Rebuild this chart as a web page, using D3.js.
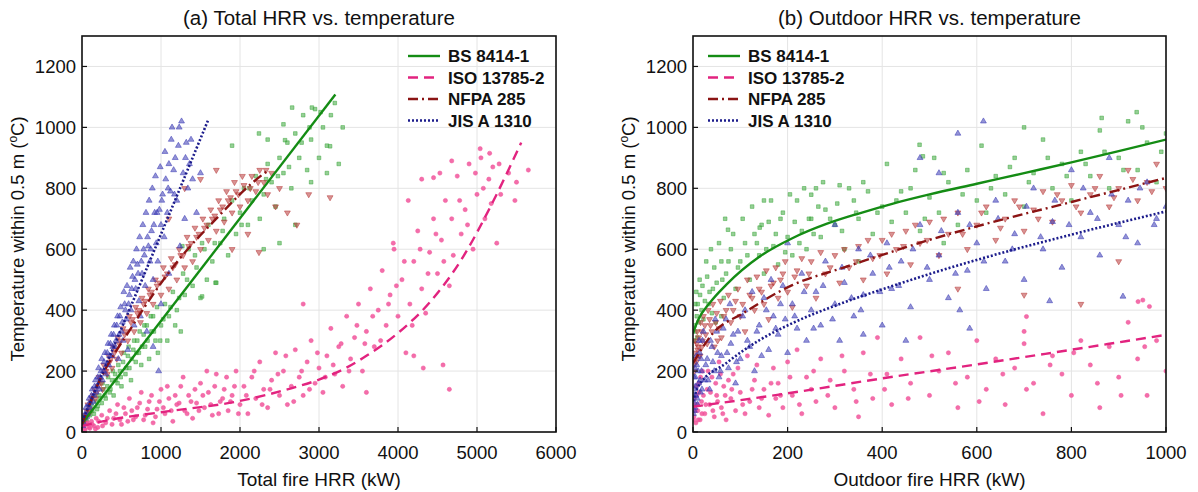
<!doctype html>
<html>
<head>
<meta charset="utf-8"/>
<title>HRR vs. temperature</title>
<script src="https://d3js.org/d3.v7.min.js"></script>
<style>
body { margin: 0; background: #fff; }
svg { font-family: "Liberation Sans", Arial, sans-serif; }
</style>
</head>
<body>
<svg id="svg1" width="1198" height="492"></svg>
<script>
// ---- data ----
const series_names = ['BS 8414-1', 'ISO 13785-2', 'NFPA 285', 'JIS A 1310'];
const x_ticks_a = [0, 1000, 2000, 3000, 4000, 5000, 6000];
const x_ticks_b = [0, 200, 400, 600, 800, 1000];
const y_ticks = [0, 200, 400, 600, 800, 1000, 1200];

// (a) total HRR, fitted curves
const fit_bs_a = [[0, 28], [3207, 1108]];
const fit_iso_a = [[0, 20], [400, 42], [1000, 65], [2000, 102], [2600, 140], [3000, 172], [3300, 205], [3600, 250], [4000, 325], [4400, 425], [4800, 565], [5200, 755], [5560, 950]];
const fit_nfpa_a = [[0, 25], [169, 138], [633, 346], [1224, 565], [1688, 697], [2152, 817], [2370, 862]];
const fit_jis_a = [[0, 35], [800, 525], [1595, 1023]];

// (a) total HRR, measured points
const pts_bs_a = [[50,40],[80,70],[100,55],[120,90],[150,60],[180,100],[200,85],[220,120],[250,95],[270,140],[300,110],[320,150],[350,130],[380,170],[400,120],[420,190],[450,160],[480,200],[500,150],[520,230],[550,190],[580,250],[600,210],[620,170],[650,270],[680,230],[700,300],[720,260],[750,220],[780,320],[800,280],[820,350],[850,240],[880,330],[900,380],[930,300],[960,260],[1000,350],[1050,420],[1080,300],[1100,380],[1150,460],[1200,400],[1250,330],[1280,520],[1300,450],[1350,600],[1400,480],[1450,540],[1500,440],[1520,620],[1580,500],[1600,680],[1650,560],[1700,490],[1750,620],[1800,700],[1850,580],[1900,760],[1950,650],[2000,720],[2050,800],[2100,680],[2150,760],[2200,840],[2250,700],[2300,780],[2350,880],[2400,820],[2450,740],[2500,900],[2550,850],[2600,950],[2650,800],[2700,980],[2750,900],[2800,1040],[2850,860],[2900,960],[2950,1060],[3000,900],[3050,1000],[3100,940],[3150,1040],[3200,1080],[3250,880],[3300,1000],[2700,680],[2900,820],[3100,850],[2500,620],[2300,600],[1900,940],[2240,980],[2660,1065],[2910,1065],[2570,958],[3140,938],[1690,490],[1520,445],[1270,610],
    [30,50],[60,35],[90,80],[130,70],[160,120],[190,75],[230,110],[260,160],[290,120],[330,180],[360,140],[390,200],[430,170],[460,220],[490,180],[530,260],[560,210],[590,280],[630,240],[660,300],[690,260],[730,330],[760,280],[790,350],[830,300],[870,380],[910,330],[950,410],[990,300],[1030,370],[1120,410],[1180,350],[1230,440],[1330,500],[1430,580],[1550,600],[1680,620],[1780,660],[2020,680],[2120,800],[2330,830],[2480,840],[2620,870],[2780,950],[2880,1000],[3020,1050],[2350,960],[2550,1010]];
const pts_iso_a = [[30,10],[60,25],[90,15],[120,35],[150,20],[180,45],[200,15],[250,55],[300,30],[350,70],[400,45],[450,90],[500,25],[550,60],[600,110],[650,40],[700,80],[750,130],[800,55],[850,100],[900,30],[950,75],[1000,140],[1050,60],[1100,110],[1150,35],[1200,90],[1250,150],[1300,70],[1350,120],[1400,45],[1450,95],[1500,160],[1550,80],[1600,130],[1650,55],[1700,190],[1750,100],[1800,140],[1850,70],[1900,120],[1950,200],[2000,90],[2050,150],[2100,60],[2150,180],[2200,110],[2250,230],[2300,140],[2350,80],[2400,170],[2450,260],[2500,120],[2550,200],[2600,90],[2650,150],[2700,270],[2750,180],[2800,120],[2850,230],[2900,300],[2950,160],[3000,210],[3050,130],[3100,250],[3150,340],[3200,190],[3250,280],[3300,150],[3350,380],[3400,240],[3450,310],[3500,420],[3550,200],[3600,330],[3650,470],[3700,280],[3750,400],[3800,530],[3850,350],[3900,450],[3950,600],[4000,380],[4050,500],[4100,260],[4150,420],[4200,560],[4250,660],[4300,470],[4350,390],[4400,590],[4450,700],[4500,520],[4550,630],[4600,760],[4650,480],[4700,580],[4750,840],[4800,650],[4850,730],[4900,880],[4950,600],[5000,780],[5050,900],[5100,700],[5150,830],[5200,870],[5250,620],[5300,780],[5400,850],[5500,820],[5650,860],[4300,830],[4650,140],[3600,130],[2800,420],[4200,250],[4130,760],[4450,835],[4530,850],[4680,890],[5040,930],[5160,915],[4320,210],[4570,220],[3940,620],
    [20,20],[40,8],[70,30],[100,12],[130,25],[170,10],[210,35],[260,20],[320,45],[380,25],[430,60],[480,40],[530,80],[580,35],[630,70],[680,50],[730,95],[780,40],[830,75],[880,120],[930,50],[980,100],[1030,80],[1080,150],[1130,70],[1180,120],[1230,95],[1280,180],[1330,60],[1380,100],[1430,140],[1480,70],[1530,120],[1580,200],[1630,90],[1680,150],[1730,60],[1780,110],[1830,180],[1880,100],[1930,150],[1980,60],[2080,120],[2180,200],[2280,90],[2380,140],[2480,190],[2580,250],[2680,100],[2780,200],[2880,140],[2980,260],[3080,180],[3180,220],[3280,290],[3380,200],[3480,350],[3580,290],[3680,380],[3780,300],[3880,420],[3980,480],[4080,560],[4180,350],[4280,600],[4380,520],[4480,650],[4580,560],[4680,700],[4780,760],[4880,680],[4980,850],[5080,800],[5180,750],[5280,880],[5480,760]];
const pts_nfpa_a = [[30,40],[60,70],[90,60],[110,100],[140,120],[170,110],[200,150],[230,170],[260,140],[290,200],[320,190],[350,230],[380,210],[410,260],[440,240],[470,290],[500,260],[540,320],[580,300],[620,360],[660,330],[700,390],[740,360],[780,420],[820,390],[860,450],[900,420],[950,480],[1000,450],[1050,510],[1100,470],[1150,540],[1200,500],[1250,580],[1300,540],[1350,610],[1400,560],[1450,640],[1500,600],[1550,670],[1600,630],[1650,700],[1700,660],[1750,730],[1800,690],[1850,760],[1900,720],[1950,790],[2000,740],[2050,810],[2100,760],[2150,840],[2200,790],[2250,860],[2300,820],[2350,780],[2400,850],[2450,740],[2500,800],[2600,720],[2720,680],[2870,780],[3140,770],[2240,590],[1300,800],[1500,830],[1700,860],[1900,600],[2100,650],[1100,700],
    [15,30],[45,55],[75,90],[100,75],[125,110],[155,140],[185,130],[215,180],[245,160],[275,220],[305,200],[335,250],[365,240],[395,280],[425,270],[455,310],[490,300],[520,340],[560,330],[600,380],[640,370],[680,410],[720,400],[760,440],[800,430],[840,470],[880,460],[930,500],[980,490],[1030,540],[1080,520],[1130,570],[1180,550],[1230,600],[1280,580],[1330,640],[1380,620],[1430,670],[1480,650],[1530,700],[1580,680],[1630,730],[1680,710],[1730,760],[1780,740],[1830,790],[1880,770],[1930,820],[1980,780],[2030,840],[2130,800],[2230,820],[2330,860]];
const pts_jis_a = [[20,30],[40,60],[60,50],[80,90],[100,80],[120,120],[140,100],[160,150],[180,130],[200,180],[220,140],[240,200],[260,170],[280,230],[300,190],[320,260],[340,220],[360,290],[380,250],[400,320],[420,280],[440,350],[460,240],[480,380],[500,330],[520,300],[540,420],[560,370],[580,270],[600,450],[620,400],[640,510],[660,350],[680,470],[700,550],[720,430],[740,380],[760,520],[780,600],[800,480],[820,330],[840,610],[860,560],[880,660],[900,500],[920,720],[940,620],[960,560],[980,730],[1000,680],[1020,780],[1040,640],[1060,830],[1080,720],[1100,880],[1120,790],[1140,1000],[1160,860],[1180,900],[1200,760],[1220,940],[1240,610],[1260,1020],[1280,850],[1300,700],[1320,950],[1340,800],[1360,880],[1380,960],[1400,830],[1450,720],[1500,850],[970,200],[900,280],[1100,520],[1000,420],
    [10,20],[30,45],[50,80],[70,60],[90,110],[110,95],[130,140],[150,120],[170,170],[190,150],[210,210],[230,180],[250,240],[270,200],[290,260],[310,220],[330,290],[350,250],[370,320],[390,280],[410,350],[430,300],[450,380],[470,320],[490,410],[510,360],[530,460],[550,400],[570,480],[590,420],[610,540],[630,470],[650,560],[670,500],[690,600],[710,520],[730,640],[750,560],[770,680],[790,580],[810,720],[830,640],[850,760],[870,600],[890,800],[910,680],[930,840],[950,720],[990,870],[1010,760],[1050,920],[1090,800],[1130,960],[1170,780],[1230,1000],[1310,900]];

// (b) outdoor HRR, fitted curves
const fit_bs_b = [[0, 324], [10, 365], [35, 423], [70, 483], [141, 576], [211, 637], [282, 683], [352, 718], [423, 750], [500, 780], [600, 815], [700, 850], [800, 885], [900, 922], [1000, 960]];
const fit_iso_b = [[0, 83], [200, 127], [400, 176], [600, 222], [800, 270], [1000, 319]];
const fit_nfpa_b = [[0, 226], [42, 324], [106, 390], [211, 483], [317, 539], [423, 593], [507, 634], [600, 675], [800, 755], [1000, 834]];
const fit_jis_b = [[0, 100], [11, 149], [70, 226], [141, 302], [211, 358], [317, 424], [423, 480], [507, 522], [600, 565], [800, 648], [1000, 724]];

// (b) outdoor HRR, measured points
const pts_bs_b = [[2,300],[3,350],[5,330],[8,380],[10,420],[12,360],[15,450],[18,400],[20,480],[25,430],[30,510],[35,460],[40,390],[45,540],[50,490],[60,560],[65,440],[70,520],[80,600],[90,470],[100,560],[110,620],[120,500],[130,650],[140,580],[150,520],[160,690],[170,610],[180,550],[190,720],[200,640],[210,580],[220,760],[230,660],[240,600],[250,700],[260,800],[270,640],[280,730],[300,680],[310,810],[320,600],[340,760],[350,700],[360,820],[380,650],[400,740],[410,880],[420,690],[440,790],[450,720],[470,860],[480,660],[500,770],[510,900],[520,720],[540,820],[560,680],[580,860],[600,760],[610,940],[620,720],[640,840],[660,780],[680,900],[700,740],[720,850],[740,960],[760,800],[780,880],[800,760],[820,920],[840,840],[860,990],[880,800],[900,900],[920,1020],[940,860],[960,950],[980,820],[1000,980],[60,380],[150,760],[700,1000],[530,620],[350,560],[74,664],[141,671],[250,779],[479,943],[486,905],[864,1031],[938,1050],
    [5,420],[7,460],[9,310],[14,500],[22,370],[28,560],[33,420],[38,600],[42,470],[48,360],[55,620],[62,500],[68,700],[75,560],[85,650],[95,540],[105,700],[115,580],[125,740],[135,620],[145,680],[155,600],[165,760],[175,650],[185,700],[195,590],[205,780],[215,690],[225,620],[235,800],[245,700],[255,650],[265,740],[275,820],[290,700],[305,750],[315,660],[330,800],[345,720],[370,790],[390,720],[430,760],[460,800],[490,700],[530,850],[570,780],[630,800],[670,870],[710,820],[750,900],[790,840],[830,880],[870,920],[910,860],[950,1000],[990,920]];
const pts_iso_b = [[2,50],[4,90],[6,30],[8,120],[10,70],[12,160],[15,40],[18,100],[20,200],[25,60],[30,140],[35,90],[40,180],[45,50],[50,120],[55,230],[60,80],[65,150],[70,40],[80,110],[85,190],[90,70],[100,130],[110,60],[115,250],[120,100],[130,170],[140,80],[150,140],[160,55],[170,210],[175,110],[180,160],[190,80],[200,230],[210,120],[220,270],[230,60],[240,180],[250,140],[260,100],[270,240],[290,170],[300,80],[320,200],[340,140],[350,50],[360,260],[380,110],[390,310],[410,190],[420,90],[440,240],[460,160],[480,310],[500,120],[520,200],[540,260],[560,80],[580,180],[600,300],[620,140],[640,240],[660,90],[680,210],[700,330],[720,160],[740,60],[760,250],[780,190],[800,120],[820,300],[840,220],[860,80],[880,280],[900,180],[920,360],[940,240],[960,120],[980,300],[1000,200],[941,428],[951,433],[965,412],[705,379],[700,290],
    [1,40],[3,110],[5,70],[7,150],[9,90],[11,40],[13,130],[16,180],[19,60],[22,120],[27,90],[32,200],[37,130],[42,70],[48,160],[52,100],[58,190],[63,60],[68,120],[75,170],[82,140],[95,210],[105,90],[125,140],[135,220],[145,110],[165,160],[185,120],[205,180],[225,90],[255,200],[285,120],[315,250],[345,100],[375,190],[405,140],[455,110],[505,250],[555,160],[605,100],[655,190],[705,140],[755,220],[805,260],[855,160],[905,120],[955,280]];
const pts_nfpa_b = [[2,220],[4,260],[6,240],[8,290],[10,270],[12,310],[15,250],[18,330],[20,300],[25,350],[30,290],[35,370],[40,330],[45,280],[50,390],[55,340],[60,310],[70,400],[80,360],[90,430],[100,380],[110,330],[120,450],[130,400],[140,470],[150,420],[160,370],[170,490],[180,440],[190,520],[200,460],[210,410],[220,530],[240,480],[250,560],[260,440],[280,520],[300,580],[310,490],[330,540],[350,610],[360,500],[380,570],[400,630],[410,520],[430,600],[450,660],[460,550],[480,620],[500,690],[520,580],[540,650],[560,720],[580,600],[600,680],[620,740],[640,630],[660,700],[680,760],[700,660],[720,730],[740,790],[760,690],[780,760],[800,810],[820,720],[840,780],[860,840],[880,740],[900,800],[920,860],[940,760],[960,820],[980,880],[1000,800],[820,420],[900,560],[700,450],[560,470],
    [3,200],[5,300],[7,230],[9,330],[11,280],[13,250],[16,360],[19,280],[22,380],[27,320],[32,400],[37,350],[42,420],[48,360],[52,300],[58,430],[65,380],[75,450],[85,400],[95,470],[105,420],[115,500],[125,440],[135,510],[145,460],[155,530],[165,480],[175,540],[185,500],[195,560],[215,510],[230,570],[245,520],[270,590],[290,540],[320,600],[345,560],[370,630],[395,580],[420,650],[445,610],[470,680],[495,630],[530,700],[570,650],[610,720],[650,670],[690,740],[730,700],[770,780],[810,740],[850,800],[890,770],[930,830],[970,790]];
const pts_jis_b = [[1,60],[2,100],[3,140],[4,80],[5,180],[6,120],[8,220],[10,90],[12,160],[14,260],[16,130],[18,200],[20,300],[25,170],[30,240],[35,140],[40,280],[45,200],[50,330],[55,180],[60,250],[70,370],[75,210],[80,290],[90,160],[95,330],[100,240],[110,400],[120,280],[130,200],[140,350],[150,440],[160,270],[170,380],[180,320],[190,480],[200,260],[210,420],[220,340],[230,520],[240,300],[250,400],[260,460],[270,350],[280,560],[300,420],[310,300],[320,490],[340,380],[350,600],[360,450],[380,520],[400,350],[410,620],[420,470],[440,560],[460,410],[480,680],[500,500],[520,580],[540,440],[560,720],[580,530],[600,620],[620,470],[640,760],[660,560],[680,650],[700,500],[720,800],[740,600],[760,690],[780,540],[800,860],[820,640],[840,720],[860,580],[880,900],[900,680],[920,760],[940,620],[960,820],[980,700],[1000,740],[614,1020],[560,980],[480,900],[520,850],[200,620],[300,680],[360,320],[450,300],[564,400],[754,430],[909,445],[585,340],
    [1,120],[2,180],[3,70],[4,210],[5,150],[7,250],[9,110],[11,200],[13,300],[15,170],[17,240],[19,140],[22,330],[27,220],[32,170],[37,300],[42,230],[47,370],[52,260],[58,200],[64,340],[72,260],[78,420],[85,320],[92,230],[105,380],[115,300],[125,460],[135,330],[145,250],[155,400],[165,500],[175,340],[185,420],[195,370],[215,380],[235,460],[255,340],[275,480],[295,370],[315,540],[335,440],[355,400],[375,580],[395,460],[415,540],[435,480],[465,600],[495,540],[525,660],[555,520],[585,680],[615,560],[645,700],[675,600],[705,740],[735,640],[765,760],[795,680],[825,800],[855,700],[885,780],[915,640],[945,800],[975,680]];

// ---- styles ----
const line_col = ['#148c14', '#e2237f', '#8b1414', '#1c1c8c'];
const pt_col = ['#3fa83f', '#f1559b', '#b83a3a', '#3a3ab4'];
const dashes = [null, '10,6', '10,4,2,4', '2,2'];
const symbols = [d3.symbolSquare, d3.symbolCircle, 'down', d3.symbolTriangle];

const svg = d3.select('#svg1');

function draw_panel(opts) {
    const x = d3.scaleLinear().domain(opts.xdom).range([opts.left, opts.right]);
    const y = d3.scaleLinear().domain([0, 1300]).range([432, 36]);
    const g = svg.append('g');
    const clip_id = 'clip' + opts.id;
    g.append('clipPath').attr('id', clip_id)
        .append('rect')
        .attr('x', opts.left).attr('y', 36)
        .attr('width', opts.right - opts.left).attr('height', 396);

    // grid
    g.selectAll('.gx').data(opts.xticks).enter().append('line')
        .attr('x1', d => x(d)).attr('x2', d => x(d))
        .attr('y1', 36).attr('y2', 432)
        .style('stroke', '#e4e4e4').style('stroke-width', 1);
    g.selectAll('.gy').data(y_ticks).enter().append('line')
        .attr('x1', opts.left).attr('x2', opts.right)
        .attr('y1', d => y(d)).attr('y2', d => y(d))
        .style('stroke', '#e4e4e4').style('stroke-width', 1);

    // scatter
    const sg = g.append('g').attr('clip-path', 'url(#' + clip_id + ')');
    opts.pts.forEach((pts, i) => {
        let sym = symbols[i];
        let rot = 0;
        if (sym === 'down') { sym = d3.symbolTriangle; rot = 180; }
        const size = i == 1 ? 14 : (i == 0 ? 13 : 15);
        const path = d3.symbol().type(sym).size(size)();
        sg.selectAll('.p' + i).data(pts).enter().append('path')
            .attr('d', path)
            .attr('transform', d => 'translate(' + x(d[0]) + ',' + y(d[1]) + ') rotate(' + rot + ')')
            .style('fill', pt_col[i])
            .style('fill-opacity', i == 1 ? 0.85 : 0.55)
            .style('stroke', pt_col[i])
            .style('stroke-width', 0.7)
            .style('stroke-opacity', 0.75);
    });

    // fitted lines
    const line = d3.line().x(d => x(d[0])).y(d => y(d[1])).curve(d3.curveMonotoneX);
    opts.fits.forEach((f, i) => {
        sg.append('path').datum(f)
            .attr('d', line)
            .style('fill', 'none')
            .style('stroke', line_col[i])
            .style('stroke-width', i == 3 ? 2.6 : 2.4)
            .style('stroke-dasharray', dashes[i]);
    });

    // frame
    g.append('rect')
        .attr('x', opts.left).attr('y', 36)
        .attr('width', opts.right - opts.left).attr('height', 396)
        .style('fill', 'none').style('stroke', '#111').style('stroke-width', 1.6);

    // ticks inward + labels
    g.selectAll('.tx').data(opts.xticks).enter().append('line')
        .attr('x1', d => x(d)).attr('x2', d => x(d))
        .attr('y1', 432).attr('y2', 427)
        .style('stroke', '#111').style('stroke-width', 1.2);
    g.selectAll('.ty').data(y_ticks).enter().append('line')
        .attr('x1', opts.left).attr('x2', opts.left + 5)
        .attr('y1', d => y(d)).attr('y2', d => y(d))
        .style('stroke', '#111').style('stroke-width', 1.2);
    g.selectAll('.lx').data(opts.xticks).enter().append('text')
        .attr('x', d => x(d)).attr('y', 459)
        .attr('text-anchor', 'middle')
        .style('font-size', '18.5px').style('fill', '#111')
        .text(d => d);
    g.selectAll('.ly').data(y_ticks).enter().append('text')
        .attr('x', opts.left - 6).attr('y', d => y(d) + 6.5)
        .attr('text-anchor', 'end')
        .style('font-size', '18.5px').style('fill', '#111')
        .text(d => d);

    // titles
    const mid = (opts.left + opts.right) / 2;
    g.append('text').attr('x', mid).attr('y', 25)
        .attr('text-anchor', 'middle')
        .style('font-size', '20.5px').style('fill', '#111')
        .text(opts.title);
    g.append('text').attr('x', mid).attr('y', 486)
        .attr('text-anchor', 'middle')
        .style('font-size', '19px').style('fill', '#111')
        .text(opts.xlabel);
    const yl = g.append('text')
        .attr('transform', 'translate(' + (opts.left - 58) + ',239) rotate(-90)')
        .attr('text-anchor', 'middle')
        .style('font-size', '18.5px').style('fill', '#111');
    yl.append('tspan').text('Temperature within 0.5 m (');
    yl.append('tspan').text('o').style('font-size', '12px').attr('dy', -7);
    yl.append('tspan').text('C)').attr('dy', 7);

    // legend
    series_names.forEach((name, i) => {
        const ly = 56 + i * 21.5;
        g.append('line')
            .attr('x1', opts.legx).attr('x2', opts.legx + 32)
            .attr('y1', ly).attr('y2', ly)
            .style('stroke', line_col[i])
            .style('stroke-width', 2.4)
            .style('stroke-dasharray', dashes[i]);
        g.append('text')
            .attr('x', opts.legx + 40).attr('y', ly + 6)
            .style('font-size', '17px').style('font-weight', 'bold').style('fill', '#111')
            .text(name);
    });
}

draw_panel({
    id: 'a', left: 82, right: 556, xdom: [0, 6000], xticks: x_ticks_a,
    title: '(a) Total HRR vs. temperature', xlabel: 'Total fire HRR (kW)',
    pts: [pts_bs_a, pts_iso_a, pts_nfpa_a, pts_jis_a],
    fits: [fit_bs_a, fit_iso_a, fit_nfpa_a, fit_jis_a],
    legx: 408
});
draw_panel({
    id: 'b', left: 693, right: 1166, xdom: [0, 1000], xticks: x_ticks_b,
    title: '(b) Outdoor HRR vs. temperature', xlabel: 'Outdoor fire HRR (kW)',
    pts: [pts_bs_b, pts_iso_b, pts_nfpa_b, pts_jis_b],
    fits: [fit_bs_b, fit_iso_b, fit_nfpa_b, fit_jis_b],
    legx: 708
});
</script>
</body>
</html>
